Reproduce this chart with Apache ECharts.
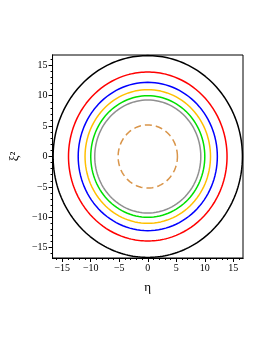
<!DOCTYPE html>
<html><head><meta charset="utf-8">
<script src="https://cdn.jsdelivr.net/npm/echarts@6/dist/echarts.min.js"></script>
<style>html,body{margin:0;padding:0;background:#fff}#c{width:262px;height:339px}</style>
</head><body><div id="c"></div>
<script>
// Circle radii (centered at origin)
const circleNames = ['black','red','blue','yellow','green','gray','orange'];
const radii = [16.6, 13.9, 12.2, 11.0, 10.0, 9.3, 5.2];
const colors = ['#000000','#ff0000','#0000ff','#ffc000','#00e000','#909090','#d9954a'];
const dashed = [false,false,false,false,false,false,true];
const majorTicks = [-15,-10,-5,0,5,10,15];
const minorTicks = [-16,-15,-14,-13,-12,-11,-10,-9,-8,-7,-6,-5,-4,-3,-2,-1,0,1,2,3,4,5,6,7,8,9,10,11,12,13,14,15,16];
const axisMin = -16.7, axisMax = 16.7;

function circlePts(r){
  const pts=[]; const n=240;
  for(let i=0;i<=n;i++){const t=2*Math.PI*i/n; pts.push([r*Math.cos(t), r*Math.sin(t)]);}
  return pts;
}
const fmt = v => (v<0?'\u2212'+(-v):String(v));
const font = {fontFamily:'Liberation Serif', fontSize:10, color:'#000'};
function mkAxis(extra){
  return Object.assign({type:'value', min:axisMin, max:axisMax, splitLine:{show:false},
    axisLine:{show:true, onZero:false, lineStyle:{color:'#000',width:1}}}, extra);
}
const chart = echarts.init(document.getElementById('c'), null, {renderer:'canvas'});
chart.setOption({
  animation:false,
  grid:{left:49,right:19,top:55,bottom:81,show:true,borderColor:'#000',borderWidth:1,containLabel:false},
  xAxis:[
    mkAxis({position:'bottom', name:'η', nameLocation:'middle', nameGap:23,
      nameTextStyle:{fontFamily:'Liberation Serif',fontSize:13,color:'#000'},
      axisTick:{show:true, length:2, customValues:minorTicks, lineStyle:{color:'#000'}},
      axisLabel:Object.assign({show:true, margin:5, customValues:majorTicks, formatter:fmt}, font)}),
    mkAxis({position:'bottom', gridIndex:0,
      axisTick:{show:true, length:4, customValues:majorTicks, lineStyle:{color:'#000'}},
      axisLabel:{show:false}})
  ],
  yAxis:[
    mkAxis({position:'left', name:'ξ²', nameLocation:'middle', nameGap:27, nameRotate:90,
      nameTextStyle:{fontFamily:'Liberation Serif',fontSize:13,color:'#000'},
      axisTick:{show:true, length:2, customValues:minorTicks, lineStyle:{color:'#000'}},
      axisLabel:Object.assign({show:true, margin:5, customValues:majorTicks, formatter:fmt}, font)}),
    mkAxis({position:'left', gridIndex:0,
      axisTick:{show:true, length:4, customValues:majorTicks, lineStyle:{color:'#000'}},
      axisLabel:{show:false}})
  ],
  series: radii.map((r,i)=>({
    type:'line', name:circleNames[i], data:circlePts(r), showSymbol:false, symbol:'none',
    xAxisIndex:0, yAxisIndex:0, clip:true,
    lineStyle:{color:colors[i], width:1.5, type: dashed[i]?[7,4]:'solid'}
  }))
});
</script></body></html>
